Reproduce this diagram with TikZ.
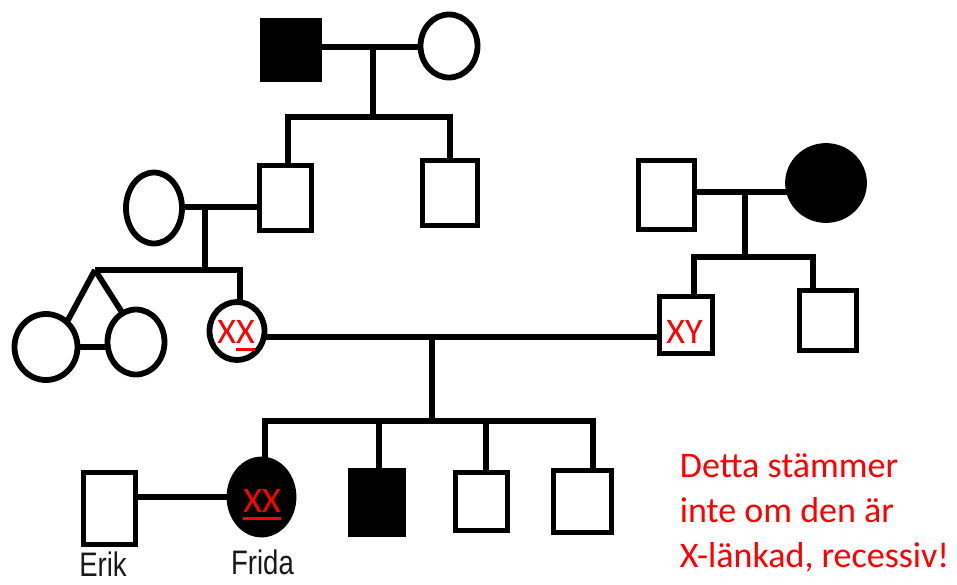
\documentclass[tikz,border=0pt]{standalone}
\usepackage{fontspec}
\setmainfont{Carlito}
\newfontfamily\namefont[FakeStretch=0.81]{Liberation Sans}
\usetikzlibrary{shapes.geometric}
% underline a piece of genotype text with a thick rule
\newcommand\redunder[1]{\setbox0\hbox{#1}\rlap{\rule[-7.5pt]{\wd0}{3pt}}\box0}
\begin{document}
\begin{tikzpicture}[x=1pt,y=-1pt,line width=5.8pt,
  male/.style={rectangle,draw,inner sep=0pt,outer sep=0pt},
  female/.style={ellipse,draw,inner sep=0pt,outer sep=0pt},
  affected/.style={fill=black},
  geno/.style={text=red,font=\fontsize{36}{36}\selectfont,anchor=base,inner sep=0pt},
  personlabel/.style={text=black!90,font=\namefont\fontsize{34}{34}\selectfont,anchor=base,inner sep=0pt},
  remark/.style={text=red,font=\fontsize{36}{45}\selectfont,anchor=base west,inner sep=0pt}]
\useasboundingbox (0,0) rectangle (957,584);

% generation I
\node[male,affected,minimum width=57pt,minimum height=59pt] (gf) at (291,50) {};
\node[female,minimum width=57pt,minimum height=63pt] (gm) at (449,46) {};
% generation II
\node[male,minimum width=52pt,minimum height=65pt] (s1) at (285.5,198) {};
\node[male,minimum width=55pt,minimum height=65pt] (s2) at (450,193) {};
\node[female,minimum width=56pt,minimum height=71pt] (w1) at (154,208) {};
\node[male,minimum width=56pt,minimum height=69pt] (rf) at (666.5,195) {};
\node[female,affected,minimum width=76pt,minimum height=74pt] (rm) at (826,183) {};
% generation III
\node[female,minimum width=63pt,minimum height=66pt] (twin1) at (46,347) {};
\node[female,minimum width=57pt,minimum height=65pt] (twin2) at (136,342) {};
\node[female,minimum width=55pt,minimum height=58pt] (xxm) at (237,331) {};
\node[male,minimum width=53pt,minimum height=57pt] (xy) at (686,325) {};
\node[male,minimum width=57pt,minimum height=60pt] (rs) at (828,320.5) {};
% generation IV
\node[male,minimum width=52pt,minimum height=72pt] (erik) at (109.5,508.5) {};
\node[female,affected,minimum width=64pt,minimum height=75pt] (frida) at (261.5,497) {};
\node[male,affected,minimum width=53pt,minimum height=64pt] (c2) at (377,502.5) {};
\node[male,minimum width=52pt,minimum height=58pt] (c3) at (481.5,501.5) {};
\node[male,minimum width=58pt,minimum height=62pt] (c4) at (582.5,501.5) {};

% top couple and their sons
\coordinate (m1) at (373,47);
\coordinate (sb1) at (373,117);
\draw (gf.east |- m1) -- (gm.west |- m1);
\draw (m1) -- (sb1);
\draw ([xshift=2.5pt]s1.north) |- (sb1) -| (s2.north);

% left couple, twins and daughter
\coordinate (m2) at (205,207);
\coordinate (sb2) at (205,270);
\coordinate (tw) at (95,270);
\draw (w1.east |- m2) -- (s1.west |- m2);
\draw (m2) -- (sb2);
\draw (tw) -| ([xshift=3pt]xxm.north);
\draw (tw) -- (twin1.50);
\draw (tw) -- (twin2.115);
\draw (twin1.east) -- (twin2.west |- twin1.east);

% right couple and sons
\coordinate (m3) at (745,192);
\coordinate (sb3) at (745,257);
\draw (rf.east |- m3) -- (rm.west |- m3);
\draw (m3) -- (sb3);
\draw ([xshift=8pt]xy.north) |- (sb3) -| ([xshift=-15pt]rs.north);

% central couple and children
\coordinate (m4) at (432,337);
\coordinate (sb4) at (432,421);
\draw (xxm.east |- m4) -- (xy.west |- m4);
\draw (m4) -- (sb4);
\draw ([xshift=3.5pt]frida.north) |- (sb4) -| ([xshift=10.5pt]c4.north);
\draw ([xshift=2pt]c2.north) -- ([xshift=2pt]c2.north |- sb4);
\draw ([xshift=4.5pt]c3.north) -- ([xshift=4.5pt]c3.north |- sb4);
\draw (erik.east |- frida.west) -- (frida.west);

% genotypes
\node[geno] (g1) at (236,343) {X\redunder{X}};
\node[geno] (g2) at (684.5,343) {XY};
\node[geno] (g3) at (262,512) {\redunder{XX}};

% names
\node[personlabel] (n1) at (103,576) {Erik};
\node[personlabel] (n2) at (262.5,574) {Frida};

% remark
\node[remark] (t1) at (677,477) {Detta stämmer};
\node[remark] (t2) at (677,522) {inte om den är};
\node[remark] (t3) at (677,567) {X-länkad, recessiv!};
\end{tikzpicture}
\end{document}
